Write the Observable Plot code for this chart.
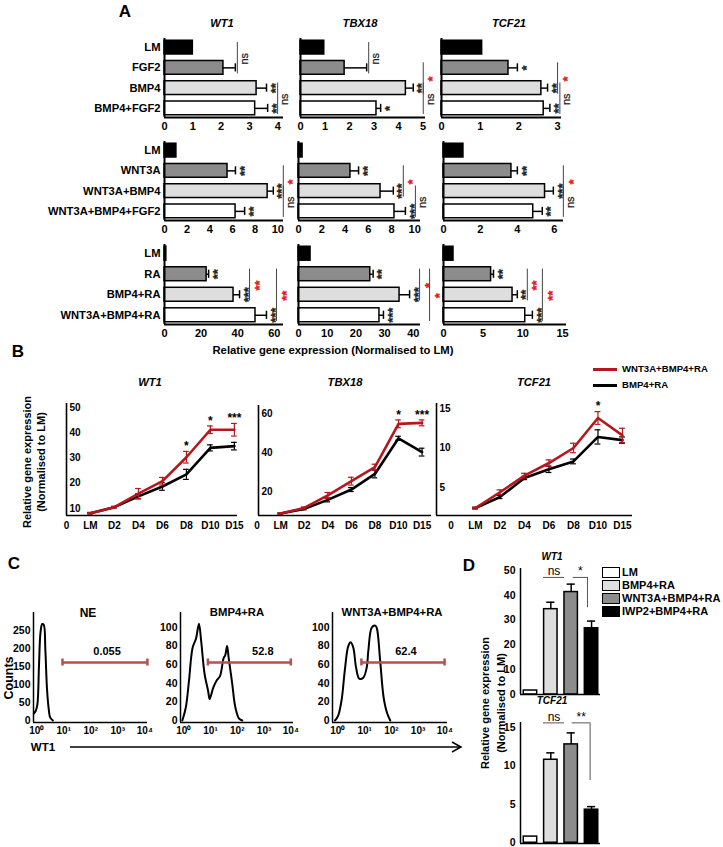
<!DOCTYPE html>
<html><head><meta charset="utf-8">
<script src="https://cdn.jsdelivr.net/npm/d3@7"></script>
<script src="https://cdn.jsdelivr.net/npm/@observablehq/plot@0.6"></script>
<style>
html,body{margin:0;padding:0;background:#fff;}
#fig{position:relative;width:723px;height:847px;overflow:hidden;background:#fff;font-family:"Liberation Sans",Arial,Helvetica,sans-serif;font-weight:bold;color:#000;}
#fig .lbl{position:absolute;white-space:nowrap;line-height:1;}
#fig .sw{position:absolute;box-sizing:border-box;}
</style></head><body><div id="fig"></div>
<script>
// ================= DATA =================
// Panel A categories
const catsA1 = ["LM", "FGF2", "BMP4", "BMP4+FGF2"];
const catsA2 = ["LM", "WNT3A", "WNT3A+BMP4", "WNT3A+BMP4+FGF2"];
const catsA3 = ["LM", "RA", "BMP4+RA", "WNT3A+BMP4+RA"];
const genes = ["WT1", "TBX18", "TCF21"];
// Panel A values / errors (relative expression)
const a1WT1 = [1.0, 2.08, 3.25, 3.2],   a1WT1Err = [0, 0.42, 0.35, 0.44];
const a1TBX18 = [0.97, 1.8, 4.3, 3.1],  a1TBX18Err = [0, 0.9, 0.3, 0.17];
const a1TCF21 = [1.05, 1.73, 2.58, 2.64], a1TCF21Err = [0, 0.23, 0.16, 0.16];
const a2WT1 = [1.05, 5.56, 9.1, 6.27],  a2WT1Err = [0, 0.7, 0.5, 0.8];
const a2TBX18 = [0.35, 4.47, 7.06, 8.26], a2TBX18Err = [0, 0.7, 1.1, 0.94];
const a2TCF21 = [1.08, 3.68, 5.5, 4.86], a2TCF21Err = [0, 0.32, 0.45, 0.49];
const a3WT1 = [1.0, 23, 37.7, 49.7],    a3WT1Err = [0, 1.1, 3.3, 6.0];
const a3TBX18 = [4.2, 25, 35.2, 28.2],  a3TBX18Err = [0, 1.0, 3.5, 1.4];
const a3TCF21 = [1.26, 6.0, 8.7, 10.3], a3TCF21Err = [0, 0.3, 0.6, 0.9];
// Panel A significance vs LM
const s1WT1 = ["", "", "**", "**"], s1TBX18 = ["", "", "**", "*"], s1TCF21 = ["", "*", "**", "**"];
const s2WT1 = ["", "**", "***", "**"], s2TBX18 = ["", "**", "***", "***"], s2TCF21 = ["", "**", "***", "**"];
const s3WT1 = ["", "**", "***", "***"], s3TBX18 = ["", "**", "***", "***"], s3TCF21 = ["", "**", "**", "***"];
// Panel A pairwise comparisons
const b1WT1 = [{from: 0, to: 1, label: "ns"}, {from: 2, to: 3, label: "ns"}];
const b1TBX18 = [{from: 0, to: 1, label: "ns"}, {from: 1, to: 2, label: "*", red: true}, {from: 2, to: 3, label: "ns"}];
const b1TCF21 = [{from: 1, to: 2, label: "*", red: true}, {from: 2, to: 3, label: "ns"}];
const b2WT1 = [{from: 1, to: 2, label: "*", red: true}, {from: 2, to: 3, label: "ns"}];
const b2TBX18 = [{from: 1, to: 2, label: "*", red: true}, {from: 2, to: 3, label: "ns"}];
const b2TCF21 = [{from: 1, to: 2, label: "*", red: true}, {from: 2, to: 3, label: "ns"}];
const b3WT1 = [{from: 1, to: 2, label: "**", red: true}, {from: 1, to: 3, label: "**", red: true}];
const b3TBX18 = [{from: 1, to: 2, label: "*", red: true}, {from: 1, to: 3, label: "*", red: true, level: 1}];
const b3TCF21 = [{from: 1, to: 2, label: "**", red: true}, {from: 1, to: 3, label: "**", red: true}];
const ticksA1 = [[0,1,2,3,4], [0,1,2,3,4,5], [0,1,2,3]];
const ticksA2 = [[0,2,4,6,8,10], [0,2,4,6,8,10], [0,2,4,6]];
const ticksA3 = [[0,20,40,60], [0,10,20,30,40], [0,5,10,15]];

// Panel B time course
const days = ["0", "LM", "D2", "D4", "D6", "D8", "D10", "D15"];
const seriesB = ["WNT3A+BMP4+RA", "BMP4+RA"];
const bWT1Red = [8.1, 10.5, 15.9, 20.8, 30.3, 41.2, 41.2], bWT1RedErr = [0.3, 0.3, 2, 1.5, 2.3, 1.5, 2.5];
const bWT1Blk = [8.1, 10.5, 14.8, 18.7, 23.5, 34.0, 34.7], bWT1BlkErr = [0.3, 0.3, 1, 1.5, 2, 1.2, 1.5];
const bTBX18Red = [8.7, 11.6, 18, 25.3, 32.5, 54.7, 55.2], bTBX18RedErr = [0.3, 0.5, 1.5, 2, 1.5, 2, 1.5];
const bTBX18Blk = [8.7, 11.1, 15.7, 21, 29, 47.3, 40.2], bTBX18BlkErr = [0.3, 0.5, 1, 1, 2, 1, 2];
const bTCF21Red = [2.4, 4.4, 6.5, 8.1, 10.0, 13.8, 11.6], bTCF21RedErr = [0.1, 0.3, 0.3, 0.4, 0.6, 0.8, 0.9];
const bTCF21Blk = [2.4, 3.8, 6.2, 7.3, 8.3, 11.4, 11.0], bTCF21BlkErr = [0.1, 0.2, 0.2, 0.4, 0.3, 0.9, 0.4];
const bWT1Stars = ["", "", "", "", "*", "*", "***"];
const bTBX18Stars = ["", "", "", "", "", "*", "***"];
const bTCF21Stars = ["", "", "", "", "", "*", ""];

// Panel C flow cytometry histograms (WT1 intensity, counts)
const histTitles = ["NE", "BMP4+RA", "WNT3A+BMP4+RA"];
const neX = [0.78, 0.92, 1.06, 1.21, 1.39, 1.60, 1.82, 2.09, 2.40, 2.75, 3.16, 3.98];
const neY = [19, 27, 45, 150, 247, 268, 266, 195, 88, 35, 8, 0];
const bmpX = [0.89, 1.20, 1.58, 2.14, 2.88, 3.72, 4.47, 6.03, 8.13, 9.33, 12.6, 17.0, 22.9, 30.9, 35.5, 41.7, 47.9, 64.6, 85.1, 117, 155];
const bmpY = [0, 14, 43, 78, 88, 104, 86, 50, 32, 23, 35, 43, 48, 67, 70, 80, 67, 40, 14, 2, 0];
const wntX = [0.78, 1.02, 1.38, 1.82, 2.45, 3.02, 3.80, 4.79, 6.31, 8.91, 12.0, 13.8, 18.6, 25.1, 28.8, 38.0, 51.3, 69.2, 91.2];
const wntY = [0, 5, 22, 54, 80, 84, 78, 57, 45, 46, 57, 75, 100, 102, 99, 65, 25, 8, 0];
const gateNE = [9, 12500], gateBMP = [8, 10000], gateWNT = [7.6, 9800];
const gatePct = ["0.055", "52.8", "62.4"];
const gateCounts = [161, 62.4, 62.4];
const gateLabelAt = [400, 900, 350];
const ticksCountNE = [0, 50, 100, 150, 200, 250];
const ticksCount = [0, 20, 40, 60, 80, 100];

// Panel D
const catsD = ["LM", "BMP4+RA", "WNT3A+BMP4+RA", "IWP2+BMP4+RA"];
const dWT1 = [1.6, 34.4, 41.3, 26.7], dWT1Err = [0, 2.8, 3.2, 2.9];
const dTCF21 = [0.8, 10.8, 12.8, 4.3], dTCF21Err = [0, 0.9, 1.5, 0.4];
const dWT1Sig = [{x1: 0.64, x2: 1.67, y: 47.2, label: "ns"}, {x1: 2.1, x2: 2.8, y: 47.2, drop: 35, label: "*"}];
const dTCF21Sig = [{x1: 0.64, x2: 1.67, y: 15.6, label: "ns"}, {x1: 2.05, x2: 2.93, y: 15.6, drop: 8.1, label: "**"}];

// ================= STYLE =================
const fillsA = ["#000000", "#8c8c8c", "#dedede", "#ffffff"];
const fillsD = ["#ffffff", "#dedede", "#8c8c8c", "#000000"];
const RED = "#b5171d", SIGRED = "#e3141b", GATE = "#b6514d";
const SUP = ["\u2070", "\u00b9", "\u00b2", "\u00b3", "\u2074"];
const FONT = '"Liberation Sans", Arial, Helvetica, sans-serif';
const fig = document.getElementById("fig");
const styleFor = (size) => ({background: "transparent", overflow: "visible", fontFamily: FONT, fontWeight: "bold", fontSize: size + "px", color: "#000", maxWidth: "none"});
function place(svg, left, top) {
  svg.style.position = "absolute"; svg.style.left = left + "px"; svg.style.top = top + "px";
  fig.appendChild(svg);
}
function label(text, x, y, o = {}) {
  const d = document.createElement("div");
  d.className = "lbl";
  d.textContent = text;
  d.style.fontSize = (o.size || 12) + "px";
  d.style.fontStyle = o.italic ? "italic" : "normal";
  d.style.fontWeight = o.weight || "bold";
  if (o.color) d.style.color = o.color;
  const tx = o.anchor === "start" ? "0" : o.anchor === "end" ? "-100%" : "-50%";
  d.style.left = x + "px"; d.style.top = y + "px";
  d.style.transform = `translate(${tx},-50%)` + (o.rotate ? ` rotate(${o.rotate}deg)` : "");
  fig.appendChild(d);
}
function swatch(x, y, w, h, bg, border) {
  const d = document.createElement("div");
  d.className = "sw";
  Object.assign(d.style, {left: x + "px", top: y + "px", width: w + "px", height: h + "px", background: bg, border: border || "none"});
  fig.appendChild(d);
}

// ================= PANEL A =================
function chartA(c) {
  const ML = c.showCats ? 170 : 4, MR = 44, MT = 4, MB = 22;
  const rows = c.cats.map((cat, i) => ({i, cat, v: c.vals[i], e: c.errs[i], end: c.vals[i] + c.errs[i], s: c.stars[i], fill: fillsA[i]}));
  const errRows = rows.filter(d => d.e > 0);
  const starRows = rows.filter(d => d.s);
  const brMarks = c.brackets.flatMap(b => {
    const span = rows.slice(b.from, b.to + 1);
    const off = (span.some(d => d.s) ? 10 : 2) + (b.level || 0) * 10;
    const datum = {x: Math.max(...span.map(d => d.end)), y1: b.from - 0.25, y2: b.to + 0.3, ym: (b.from + b.to) / 2 + 0.05, t: b.label};
    const col = b.red ? SIGRED : "#222";
    const txt = b.label === "ns"
      ? Plot.text([datum], {x: "x", y: "ym", text: "t", dx: off + 7, rotate: -90, fill: col, stroke: col, strokeWidth: 0.25, fontSize: 11, fontWeight: "normal"})
      : Plot.text([datum], {x: "x", y: "ym", text: "t", dx: off + 10, rotate: -90, fill: col, stroke: col, strokeWidth: 0.3, fontSize: 13, fontWeight: "bold"});
    return [Plot.ruleX([datum], {x: "x", y1: "y1", y2: "y2", dx: off, stroke: "#444", strokeWidth: 1}), txt];
  });
  const marks = [
    Plot.rectX(rows, {x1: () => 0, x2: "v", y1: d => d.i - 0.34, y2: d => d.i + 0.34, fill: "fill", stroke: "#000", strokeWidth: 1.5}),
    Plot.ruleY(errRows, {y: "i", x1: "v", x2: "end", stroke: "#000", strokeWidth: 1.5}),
    Plot.ruleX(errRows, {x: "end", y1: d => d.i - 0.2, y2: d => d.i + 0.2, stroke: "#000", strokeWidth: 1.5}),
    Plot.text(starRows, {x: "end", y: "i", text: "s", dx: 9, rotate: -90, fontSize: 13, fontWeight: "bold", fill: "#222", stroke: "#222", strokeWidth: 0.3}),
    ...brMarks,
    Plot.ruleX([0], {stroke: "#000", strokeWidth: 2}),
    Plot.ruleY([3.45], {stroke: "#000", strokeWidth: 2}),
    Plot.axisX({ticks: c.ticks, tickFormat: d => String(d), tickSize: 0, tickPadding: 5, fontSize: 11, fontWeight: "bold"})
  ];
  if (c.showCats) marks.push(Plot.axisY({ticks: [0, 1, 2, 3], tickFormat: i => c.cats[i], tickSize: 0, tickPadding: 4, fontSize: 11.2, fontWeight: "bold"}));
  const svg = Plot.plot({
    width: c.x1 - c.x0 + ML + MR, height: c.y1 - c.y0 + MT + MB,
    marginLeft: ML, marginRight: MR, marginTop: MT, marginBottom: MB,
    style: styleFor(11),
    x: {domain: [0, c.xMax], label: null},
    y: c.showCats ? {domain: [-0.45, 3.45], reverse: true, label: null} : {domain: [-0.45, 3.45], reverse: true, label: null, axis: null},
    color: {type: "identity"},
    marks
  });
  place(svg, c.x0 - ML, c.y0 - MT);
}
const rowsA = [
  {cats: catsA1, y: [38, 117], data: [[a1WT1, a1WT1Err, s1WT1, b1WT1], [a1TBX18, a1TBX18Err, s1TBX18, b1TBX18], [a1TCF21, a1TCF21Err, s1TCF21, b1TCF21]], ticks: ticksA1, xMax: [4.2, 5.1, 3.1], xs: [[164, 283], [300, 425], [441, 561]]},
  {cats: catsA2, y: [141, 220], data: [[a2WT1, a2WT1Err, s2WT1, b2WT1], [a2TBX18, a2TBX18Err, s2TBX18, b2TBX18], [a2TCF21, a2TCF21Err, s2TCF21, b2TCF21]], ticks: ticksA2, xMax: [10.5, 10.5, 6.5], xs: [[164, 283], [298, 420], [443, 563]]},
  {cats: catsA3, y: [244, 324], data: [[a3WT1, a3WT1Err, s3WT1, b3WT1], [a3TBX18, a3TBX18Err, s3TBX18, b3TBX18], [a3TCF21, a3TCF21Err, s3TCF21, b3TCF21]], ticks: ticksA3, xMax: [65, 42.5, 15.5], xs: [[164, 283], [298, 420], [443, 566]]}
];
rowsA.forEach(r => r.data.forEach((d, g) => chartA({
  cats: r.cats, vals: d[0], errs: d[1], stars: d[2], brackets: d[3],
  x0: r.xs[g][0], x1: r.xs[g][1], y0: r.y[0], y1: r.y[1], xMax: r.xMax[g], ticks: r.ticks[g], showCats: g === 0
})));
label("A", 125, 11, {size: 17});
[[222, 24], [360, 24], [509, 24]].forEach((p, g) => label(genes[g], p[0], p[1], {size: 11.2, italic: true}));
label("Relative gene expression (Normalised to LM)", 333, 351, {size: 11.3});

// ================= PANEL B =================
function chartB(c) {
  const ML = 4, MR = 16, MT = 20, MB = 22;
  const mk = (vals, errs) => vals.map((v, k) => ({i: k + 1, v, lo: v - errs[k], hi: v + errs[k]}));
  const R = mk(c.red, c.redErr), K = mk(c.blk, c.blkErr);
  const starData = c.stars.map((s, k) => ({i: k + 1, s, top: Math.max(R[k].hi, K[k].hi)})).filter(d => d.s);
  const capW = 0.12;
  const errMarks = (D, col) => [
    Plot.ruleX(D, {x: "i", y1: "lo", y2: "hi", stroke: col, strokeWidth: 1.2}),
    Plot.ruleY(D, {y: "hi", x1: d => d.i - capW, x2: d => d.i + capW, stroke: col, strokeWidth: 1.2}),
    Plot.ruleY(D, {y: "lo", x1: d => d.i - capW, x2: d => d.i + capW, stroke: col, strokeWidth: 1.2})
  ];
  const svg = Plot.plot({
    width: c.x1 - c.x0 + ML + MR, height: c.y1 - c.y0 + MT + MB,
    marginLeft: ML, marginRight: MR, marginTop: MT, marginBottom: MB,
    style: styleFor(10),
    x: {domain: c.xDom, label: null},
    y: {domain: c.yDom, label: null},
    marks: [
      Plot.ruleX([c.xDom[0]], {stroke: "#000", strokeWidth: 1.6}),
      Plot.ruleY([c.yDom[0]], {stroke: "#000", strokeWidth: 1.6}),
      Plot.axisY({ticks: c.yTicks, tickFormat: d => String(d), tickSize: 0, tickPadding: 0, textAnchor: "start", dx: 3, fontSize: 10, fontWeight: "bold"}),
      Plot.axisX({ticks: d3.range(days.length), tickFormat: i => days[i], tickSize: 0, tickPadding: 6, fontSize: 10, fontWeight: "bold"}),
      Plot.line(K, {x: "i", y: "v", stroke: "#000", strokeWidth: 2.6}),
      ...errMarks(K, "#000"),
      Plot.line(R, {x: "i", y: "v", stroke: RED, strokeWidth: 2.6}),
      ...errMarks(R, RED),
      Plot.text(starData, {x: "i", y: "top", text: "s", dy: -5, fontSize: 12, fontWeight: "bold"})
    ]
  });
  place(svg, c.x0 - ML, c.y0 - MT);
}
chartB({red: bWT1Red, redErr: bWT1RedErr, blk: bWT1Blk, blkErr: bWT1BlkErr, stars: bWT1Stars, x0: 66, x1: 237, y0: 403, y1: 515, xDom: [0, 7.13], yDom: [7.2, 51.6], yTicks: [10, 20, 30, 40, 50]});
chartB({red: bTBX18Red, redErr: bTBX18RedErr, blk: bTBX18Blk, blkErr: bTBX18BlkErr, stars: bTBX18Stars, x0: 258, x1: 431, y0: 405, y1: 515, xDom: [0.06, 7.4], yDom: [7.7, 64.1], yTicks: [20, 40, 60]});
chartB({red: bTCF21Red, redErr: bTCF21RedErr, blk: bTCF21Blk, blkErr: bTCF21BlkErr, stars: bTCF21Stars, x0: 436, x1: 632, y0: 403, y1: 515, xDom: [-0.59, 7.41], yDom: [1.46, 15.63], yTicks: [5, 10, 15]});
label("B", 18, 351, {size: 17});
[[150, 383], [345, 383], [534, 383]].forEach((p, g) => label(genes[g], p[0], p[1], {size: 11.2, italic: true}));
swatch(593, 367.5, 24, 3, RED); label(seriesB[0], 622, 369, {size: 9.6, anchor: "start"});
swatch(593, 383.5, 24, 3, "#000"); label(seriesB[1], 622, 385, {size: 9.6, anchor: "start"});
label("Relative gene expression", 27, 462, {size: 11, rotate: -90});
label("(Normalised to LM)", 41, 462, {size: 11, rotate: -90});

// ================= PANEL C =================
function chartC(c) {
  const ML = 36, MR = 16, MT = 4, MB = 20;
  const pts = c.xs.map((x, k) => ({x, y: c.ys[k]}));
  const capH = (c.yDom[1] - c.yDom[0]) * 3.5 / (c.y1 - c.y0);
  const g = [{y: c.gateY, a: c.gate[0], b: c.gate[1]}];
  const caps = c.gate.map(x => ({x, lo: c.gateY - capH, hi: c.gateY + capH}));
  const lab = [{x: c.labelAt, y: c.gateY, t: c.gateText}];
  const svg = Plot.plot({
    width: c.x1 - c.x0 + ML + MR, height: c.y1 - c.y0 + MT + MB,
    marginLeft: ML, marginRight: MR, marginTop: MT, marginBottom: MB,
    style: styleFor(10.5),
    x: {type: "log", domain: c.xDom, label: null},
    y: {domain: c.yDom, label: null},
    marks: [
      Plot.ruleX([c.xDom[0]], {stroke: "#000", strokeWidth: 1.5}),
      Plot.ruleY([c.yDom[0]], {stroke: "#000", strokeWidth: 1.5}),
      Plot.axisY({ticks: c.yTicks, tickFormat: d => String(d), tickSize: 0, tickPadding: 3, fontSize: 10.5, fontWeight: "bold"}),
      Plot.axisX({ticks: [1, 10, 100, 1000, 10000], tickFormat: d => "10" + SUP[Math.round(Math.log10(d))], tickSize: 0, tickPadding: 4, fontSize: 10, fontWeight: "bold"}),
      Plot.line(pts, {x: "x", y: "y", curve: "catmull-rom", stroke: "#000", strokeWidth: 2}),
      Plot.ruleY(g, {y: "y", x1: "a", x2: "b", stroke: GATE, strokeWidth: 2.5}),
      Plot.ruleX(caps, {x: "x", y1: "lo", y2: "hi", stroke: GATE, strokeWidth: 2.5}),
      Plot.text(lab, {x: "x", y: "y", text: "t", dy: -11, fontSize: 11, fontWeight: "bold"})
    ]
  });
  place(svg, c.x0 - ML, c.y0 - MT);
}
chartC({xs: neX, ys: neY, gate: gateNE, gateY: gateCounts[0], gateText: gatePct[0], labelAt: gateLabelAt[0], x0: 33, x1: 147, y0: 612, y1: 722, xDom: [0.76, 12589], yDom: [-5.6, 300], yTicks: ticksCountNE});
chartC({xs: bmpX, ys: bmpY, gate: gateBMP, gateY: gateCounts[1], gateText: gatePct[1], labelAt: gateLabelAt[1], x0: 180, x1: 293, y0: 612, y1: 722, xDom: [0.76, 12589], yDom: [-2.15, 116.1], yTicks: ticksCount});
chartC({xs: wntX, ys: wntY, gate: gateWNT, gateY: gateCounts[2], gateText: gatePct[2], labelAt: gateLabelAt[2], x0: 332, x1: 447, y0: 612, y1: 722, xDom: [0.63, 12589], yDom: [-2.15, 116.1], yTicks: ticksCount});
label("C", 14, 563, {size: 17});
[[88, 613], [237, 613], [392, 613]].forEach((p, k) => label(histTitles[k], p[0], p[1], {size: k === 0 ? 12 : 11.3}));
label("Counts", 9, 678, {size: 12.5, rotate: -90});
label("WT1", 43, 748, {size: 11.5});
(() => {
  const ns = "http://www.w3.org/2000/svg";
  const s = document.createElementNS(ns, "svg");
  s.setAttribute("width", 723); s.setAttribute("height", 847);
  Object.assign(s.style, {position: "absolute", left: "0px", top: "0px", pointerEvents: "none"});
  s.innerHTML = '<g stroke="#000" stroke-width="1.5" fill="none"><line x1="70" y1="747" x2="461" y2="747"/><polyline points="452,742 461,747 452,752"/></g>';
  fig.appendChild(s);
})();

// ================= PANEL D =================
function chartD(c) {
  const ML = 30, MR = 12, MT = 20, MB = 4;
  const rows = c.vals.map((v, i) => ({i, v, e: c.errs[i], end: v + c.errs[i], fill: fillsD[i]}));
  const errRows = rows.filter(d => d.e > 0);
  const br = c.sig.map(b => ({...b, xm: (b.x1 + b.x2) / 2}));
  const drops = br.filter(b => b.drop != null);
  const svg = Plot.plot({
    width: c.x1 - c.x0 + ML + MR, height: c.y1 - c.y0 + MT + MB,
    marginLeft: ML, marginRight: MR, marginTop: MT, marginBottom: MB,
    style: styleFor(10.5),
    x: {domain: c.xDom, label: null, axis: null},
    y: {domain: c.yDom, label: null},
    color: {type: "identity"},
    marks: [
      Plot.rectY(rows, {x1: d => d.i - 0.33, x2: d => d.i + 0.33, y1: () => 0, y2: "v", fill: "fill", stroke: "#000", strokeWidth: 1.5}),
      Plot.ruleX(errRows, {x: "i", y1: "v", y2: "end", stroke: "#000", strokeWidth: 1.5}),
      Plot.ruleY(errRows, {y: "end", x1: d => d.i - 0.2, x2: d => d.i + 0.2, stroke: "#000", strokeWidth: 1.5}),
      Plot.ruleY(br, {y: "y", x1: "x1", x2: "x2", stroke: "#555", strokeWidth: 1}),
      Plot.ruleX(drops, {x: "x2", y1: "drop", y2: "y", stroke: "#555", strokeWidth: 1}),
      Plot.text(br, {x: "xm", y: "y", text: "label", dy: -6, fontSize: 12, fontWeight: "normal"}),
      Plot.ruleX([c.xDom[0]], {stroke: "#000", strokeWidth: 1.5}),
      Plot.ruleY([c.yDom[0]], {stroke: "#000", strokeWidth: 1.5}),
      Plot.axisY({ticks: c.yTicks, tickFormat: d => String(d), tickSize: 0, tickPadding: 5, fontSize: 10.5, fontWeight: "bold"})
    ]
  });
  place(svg, c.x0 - ML, c.y0 - MT);
}
chartD({vals: dWT1, errs: dWT1Err, sig: dWT1Sig, x0: 520, x1: 600, y0: 568, y1: 694, xDom: [-0.49, 3.44], yDom: [0, 50.8], yTicks: [0, 10, 20, 30, 40, 50]});
chartD({vals: dTCF21, errs: dTCF21Err, sig: dTCF21Sig, x0: 520, x1: 600, y0: 722, y1: 843, xDom: [-0.49, 3.44], yDom: [-0.1, 15.65], yTicks: [0, 5, 10, 15]});
label("D", 469, 565, {size: 17});
label("WT1", 552, 557, {size: 10, italic: true});
label("TCF21", 552, 701, {size: 10, italic: true});
label("Relative gene expression", 485, 703, {size: 11, rotate: -90});
label("(Normalised to LM)", 501, 703, {size: 11, rotate: -90});
catsD.forEach((c, k) => {
  const yc = [572, 585, 598, 611][k];
  swatch(602, yc - 5.5, 18, 11, fillsD[k], "1.5px solid #000");
  label(c, 622, yc, {size: 11, anchor: "start"});
});
</script></body></html>
